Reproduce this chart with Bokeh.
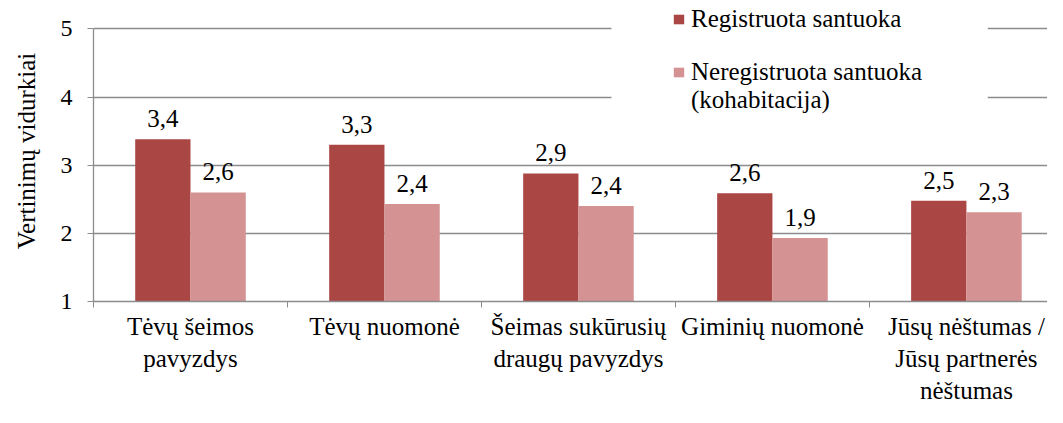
from bokeh.plotting import figure
from bokeh.models import (Range1d, FixedTicker, ColumnDataSource, Legend, LegendItem,
                          BoxAnnotation)
from bokeh.embed import file_html
from bokeh.resources import INLINE
from bokeh.core.properties import value

# ---------------- data ----------------
categories = ["Tėvų šeimos\npavyzdys", "Tėvų nuomonė", "Šeimas sukūrusių\ndraugų pavyzdys",
              "Giminių nuomonė", "Jūsų nėštumas /\nJūsų partnerės\nnėštumas"]
series_names = ["Registruota santuoka", "Neregistruota santuoka\n(kohabitacija)"]
registered = [3.38, 3.30, 2.88, 2.59, 2.48]
cohabitation = [2.60, 2.43, 2.40, 1.93, 2.31]
y_ticks = [1, 2, 3, 4, 5]
y_title = "Vertinimų vidurkiai"

# ---------------- style ----------------
FONT = "Liberation Serif"
DARK = "#AA4644"
LIGHT = "#D49292"
GRID = "#8C8C8C"
W, H = 1047, 407
LEFT, BOTTOM = 93, 100
FRAME_B = 301                 # actual frame bottom in px from top
BAR_W = 0.285

n = len(categories)
centers = [i + 0.5 for i in range(n)]

def fmt(v):
    return f"{v:.1f}".replace(".", ",")

src1 = ColumnDataSource(dict(x=[c - BAR_W / 2 for c in centers], top=registered,
                             lab=[fmt(v) for v in registered]))
src2 = ColumnDataSource(dict(x=[c + BAR_W / 2 for c in centers], top=cohabitation,
                             lab=[fmt(v) for v in cohabitation]))

p = figure(width=W, height=H, output_backend="svg", toolbar_location=None,
           x_range=Range1d(0, 4.918), y_range=Range1d(y_ticks[0], 5.417),
           min_border_left=LEFT, min_border_right=0, min_border_top=0,
           min_border_bottom=BOTTOM)
p.outline_line_color = None
p.background_fill_color = "white"
p.border_fill_color = "white"

r1 = p.vbar(x="x", top="top", bottom=y_ticks[0], width=BAR_W, source=src1,
            fill_color=DARK, line_color=None)
r2 = p.vbar(x="x", top="top", bottom=y_ticks[0], width=BAR_W, source=src2,
            fill_color=LIGHT, line_color=None)
r_blank = p.vbar(x=[], top=[], width=0.1, fill_alpha=0, line_alpha=0)

for s in (src1, src2):
    p.text(x="x", y="top", text="lab", source=s, text_align="center",
           text_baseline="bottom", y_offset=-12, text_font=value(FONT),
           text_font_size="25px", text_color="black")

# grid
p.xgrid.visible = False
p.ygrid.ticker = FixedTicker(ticks=y_ticks)
p.ygrid.grid_line_color = GRID
p.ygrid.grid_line_width = 1.3

# y axis
ya = p.yaxis[0]
ya.ticker = FixedTicker(ticks=y_ticks)
ya.bounds = (y_ticks[0], y_ticks[-1])
ya.axis_line_color = GRID
ya.axis_line_width = 1.3
ya.major_tick_line_color = GRID
ya.major_tick_out = 6
ya.major_tick_in = 0
ya.minor_tick_line_color = None
ya.major_label_text_font = FONT
ya.major_label_text_font_size = "24px"
ya.major_label_text_color = "black"
ya.major_label_standoff = 15
ya.axis_label = y_title
ya.axis_label_text_font = FONT
ya.axis_label_text_font_size = "25px"
ya.axis_label_text_font_style = "normal"
ya.axis_label_text_color = "black"
ya.axis_label_standoff = 18

# x axis
xa = p.xaxis[0]
xa.ticker = FixedTicker(ticks=centers, minor_ticks=list(range(n + 1)))
xa.major_label_overrides = {c: lab for c, lab in zip(centers, categories)}
xa.axis_line_color = GRID
xa.axis_line_width = 1.3
xa.major_tick_line_color = None
xa.major_tick_out = 0
xa.major_tick_in = 0
xa.minor_tick_line_color = GRID
xa.minor_tick_out = 6
xa.minor_tick_in = 0
xa.major_label_text_font = FONT
xa.major_label_text_font_size = "25px"
xa.major_label_text_color = "black"
xa.major_label_standoff = 5

# white box behind legend (interrupts grid lines)
p.add_layout(BoxAnnotation(left=2.67, right=4.61, bottom=3.72, top=5.6,
                           fill_color="white", fill_alpha=1.0, line_color=None,
                           level="glyph"))

leg_style = dict(orientation="vertical", background_fill_alpha=0, border_line_color=None,
                 label_text_font=FONT, label_text_font_size="25px",
                 label_text_color="black", glyph_width=13, glyph_height=12,
                 label_standoff=6, spacing=0, padding=0, margin=0)
line2a, line2b = series_names[1].split("\n")
legend_a = Legend(items=[LegendItem(label=series_names[0], renderers=[r1])],
                  location=(672 - LEFT, FRAME_B - 33), **leg_style)
legend_b = Legend(items=[LegendItem(label=line2a, renderers=[r2]),
                         LegendItem(label=line2b, renderers=[r_blank])],
                  location=(672 - LEFT, FRAME_B - 114), **leg_style)
p.add_layout(legend_a)
p.add_layout(legend_b)

open("out.html", "w").write(file_html(p, INLINE))
